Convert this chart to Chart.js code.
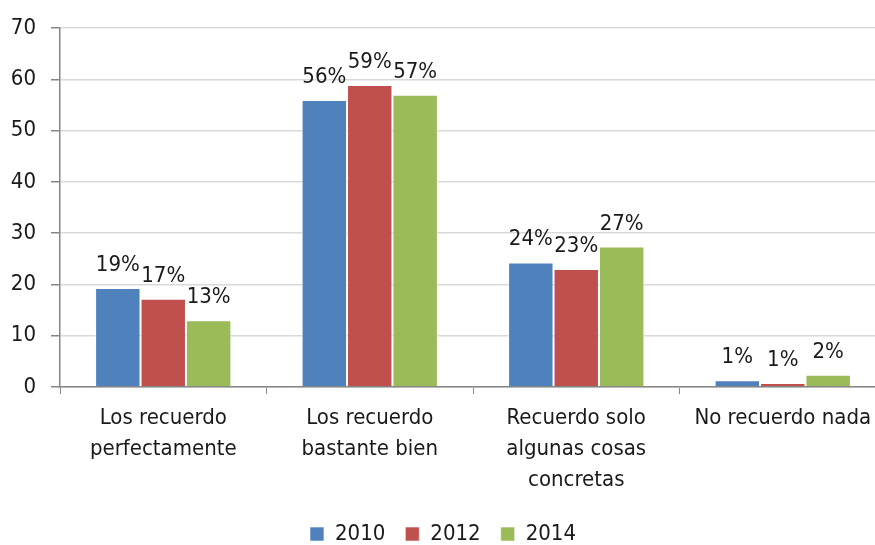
<!DOCTYPE html>
<html>
<head>
<meta charset="utf-8">
<script src="https://cdn.jsdelivr.net/npm/chart.js@4"></script>
<style>
  html, body { margin: 0; padding: 0; overflow: hidden; background: #fff; }
  #wrap { width: 890px; height: 545px; }
</style>
</head>
<body>
<div id="wrap"><canvas id="chart" width="890" height="545"></canvas></div>
<script>
const categories = [
  ['Los recuerdo', 'perfectamente'],
  ['Los recuerdo', 'bastante bien'],
  ['Recuerdo solo', 'algunas cosas', 'concretas'],
  'No recuerdo nada'
];
const years = ['2010', '2012', '2014'];
const values2010 = [19.3, 56.0, 24.3, 1.3];
const values2012 = [17.2, 58.9, 23.0, 0.8];
const values2014 = [13.0, 57.0, 27.4, 2.4];
const colors = ['#4F81BD', '#C0504D', '#9BBB59'];
const yTicks = [0, 10, 20, 30, 40, 50, 60, 70];

const FONT = '"Liberation Sans Narrow", "Arial Narrow", "DejaVu Sans Condensed", sans-serif';
const FSIZE = 22;

// percent labels above each bar
const barLabels = {
    id: 'barLabels',
    afterDatasetsDraw(chart) {
        const ctx = chart.ctx;
        ctx.save();
        ctx.font = FSIZE + 'px ' + FONT;
        ctx.fillStyle = '#1a1a1a';
        ctx.textAlign = 'center';
        ctx.textBaseline = 'alphabetic';
        chart.data.datasets.forEach((ds, i) => {
            chart.getDatasetMeta(i).data.forEach((bar, j) => {
                ctx.fillText(Math.round(ds.data[j]) + '%', bar.x, bar.y - 17);
            });
        });
        ctx.restore();
    }
};

const seriesValues = [values2010, values2012, values2014];

new Chart(document.getElementById('chart').getContext('2d'), {
    type: 'bar',
    data: {
        labels: categories,
        datasets: years.map((y, i) => ({
            label: y,
            data: seriesValues[i],
            backgroundColor: colors[i],
            borderColor: 'rgba(255,255,255,0.6)',
            borderWidth: 1,
            categoryPercentage: 0.66,
            barPercentage: 1.0
        }))
    },
    options: {
        responsive: false,
        animation: false,
        devicePixelRatio: 1,
        layout: { padding: { top: 6, right: 4, bottom: -10, left: 0 } },
        plugins: {
            tooltip: { enabled: false },
            legend: {
                position: 'bottom',
                labels: {
                    font: { family: FONT, size: FSIZE },
                    color: '#1a1a1a',
                    boxWidth: 14,
                    boxHeight: 14,
                    padding: 20
                }
            }
        },
        scales: {
            x: {
                offset: true,
                grid: {
                    offset: true,
                    drawOnChartArea: false,
                    tickLength: 7,
                    tickColor: '#868686'
                },
                border: { color: '#868686', width: 1.5 },
                ticks: {
                    font: { family: FONT, size: FSIZE, lineHeight: 1.4 },
                    color: '#1a1a1a',
                    padding: 9,
                    maxRotation: 0,
                    autoSkip: false
                },
                afterFit(scale) { scale.height = 116; }
            },
            y: {
                min: 0,
                max: 70,
                afterBuildTicks(scale) { scale.ticks = yTicks.map(v => ({ value: v })); },
                grid: {
                    color: '#d9d9d9',
                    lineWidth: 1.5,
                    tickLength: 9,
                    tickColor: '#868686'
                },
                border: { color: '#868686', width: 1.5 },
                ticks: {
                    font: { family: FONT, size: FSIZE },
                    color: '#1a1a1a',
                    padding: 15
                },
                afterFit(scale) { scale.width = 60; }
            }
        }
    },
    plugins: [barLabels]
});
</script>
</body>
</html>
